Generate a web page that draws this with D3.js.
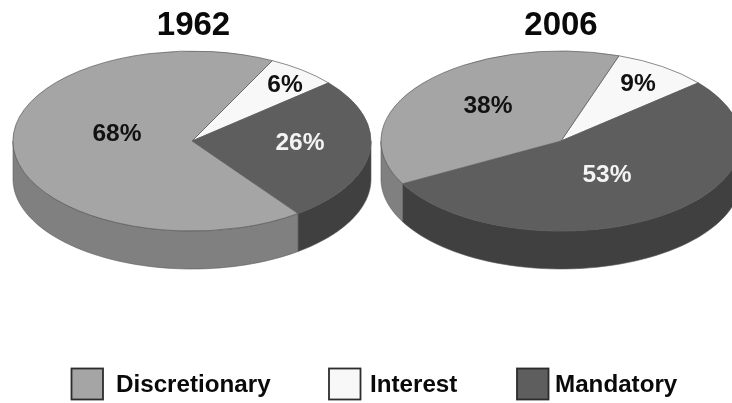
<!DOCTYPE html>
<html><head><meta charset="utf-8">
<script src="https://cdn.jsdelivr.net/npm/d3@7/dist/d3.min.js"></script>
<style>html,body{margin:0;padding:0;background:#fff}svg{display:block;filter:blur(.45px)}text{font-family:"Liberation Sans",Arial,sans-serif;font-weight:bold}</style>
</head><body><script>
const categories = ["Interest", "Mandatory", "Discretionary"];
const legendOrder = ["Discretionary", "Interest", "Mandatory"];
const years = ["1962", "2006"];
const values1962 = [6.4, 26.1, 67.5];
const values2006 = [8.6, 53.3, 38.1];

const W = 732, H = 403, RY = 90, DEPTH = 38, CY = 141;
const layouts = [
  {cx: 192, rx: 179, start: 26.7, title: 193.5, labels: [[285,83],[300,141],[117,132]], values: values1962},
  {cx: 561, rx: 180, start: 18.8, title: 561, labels: [[638,82],[607,173],[488,104]], values: values2006}
];
const topColor = d3.scaleOrdinal(categories, ["#f8f8f8", "#5e5e5e", "#a5a5a5"]);
const wallColor = d3.scaleOrdinal(categories, ["#dddddd", "#404040", "#808080"]);
const labelColor = d3.scaleOrdinal(categories, ["#111", "#f4f4f4", "#111"]);

const svg = d3.select("body").append("svg").attr("width", W).attr("height", H);
const rad = Math.PI / 180;

layouts.forEach((L, i) => {
  const RX = L.rx;
  const pie = d3.pie().value(d => d.v).sort(null).startAngle(L.start * rad).endAngle((L.start + 360) * rad);
  const arcs = pie(categories.map((c, k) => ({c, v: L.values[k]})));
  const g = svg.append("g");
  const px = a => L.cx + RX * Math.sin(a), py = a => CY - RY * Math.cos(a);
  const area = d3.area().x(px).y0(py).y1(a => py(a) + DEPTH);

  arcs.forEach(s => {
    const a0 = Math.max(s.startAngle, Math.PI / 2), a1 = Math.min(s.endAngle, 1.5 * Math.PI);
    if (a1 <= a0) return;
    const n = 60, pts = d3.range(n + 1).map(k => a0 + (a1 - a0) * k / n);
    g.append("path").attr("d", area(pts)).attr("fill", wallColor(s.data.c))
      .attr("stroke", "#5a5a5a").attr("stroke-width", .6);
  });

  const arc = d3.arc().innerRadius(0).outerRadius(1);
  const top = g.append("g").attr("transform", `translate(${L.cx},${CY}) scale(${RX},${RY})`);
  top.selectAll("path").data(arcs).join("path").attr("d", arc)
    .attr("fill", d => topColor(d.data.c))
    .attr("stroke", "#5a5a5a").attr("stroke-width", .7).attr("vector-effect", "non-scaling-stroke");

  g.selectAll("text.v").data(arcs).join("text").attr("class", "v")
    .attr("x", (d, k) => L.labels[k][0]).attr("y", (d, k) => L.labels[k][1])
    .attr("text-anchor", "middle").attr("dominant-baseline", "central")
    .attr("font-size", 24.5).attr("fill", d => labelColor(d.data.c))
    .text(d => Math.round(d.data.v) + "%");

  svg.append("text").attr("x", L.title).attr("y", 35).attr("text-anchor", "middle")
    .attr("font-size", 33).attr("fill", "#0a0a0a").text(years[i]);
});

const legendX = [71.5, 329, 517];
const legendTextX = [116, 370, 555];
legendOrder.forEach((c, i) => {
  svg.append("rect").attr("x", legendX[i]).attr("y", 368.5).attr("width", 31.5).attr("height", 31)
    .attr("fill", topColor(c)).attr("stroke", "#2c2c2c").attr("stroke-width", 1.8);
  svg.append("text").attr("x", legendTextX[i]).attr("y", 392).attr("font-size", 24.2).attr("fill", "#0a0a0a").text(c);
});
</script></body></html>
